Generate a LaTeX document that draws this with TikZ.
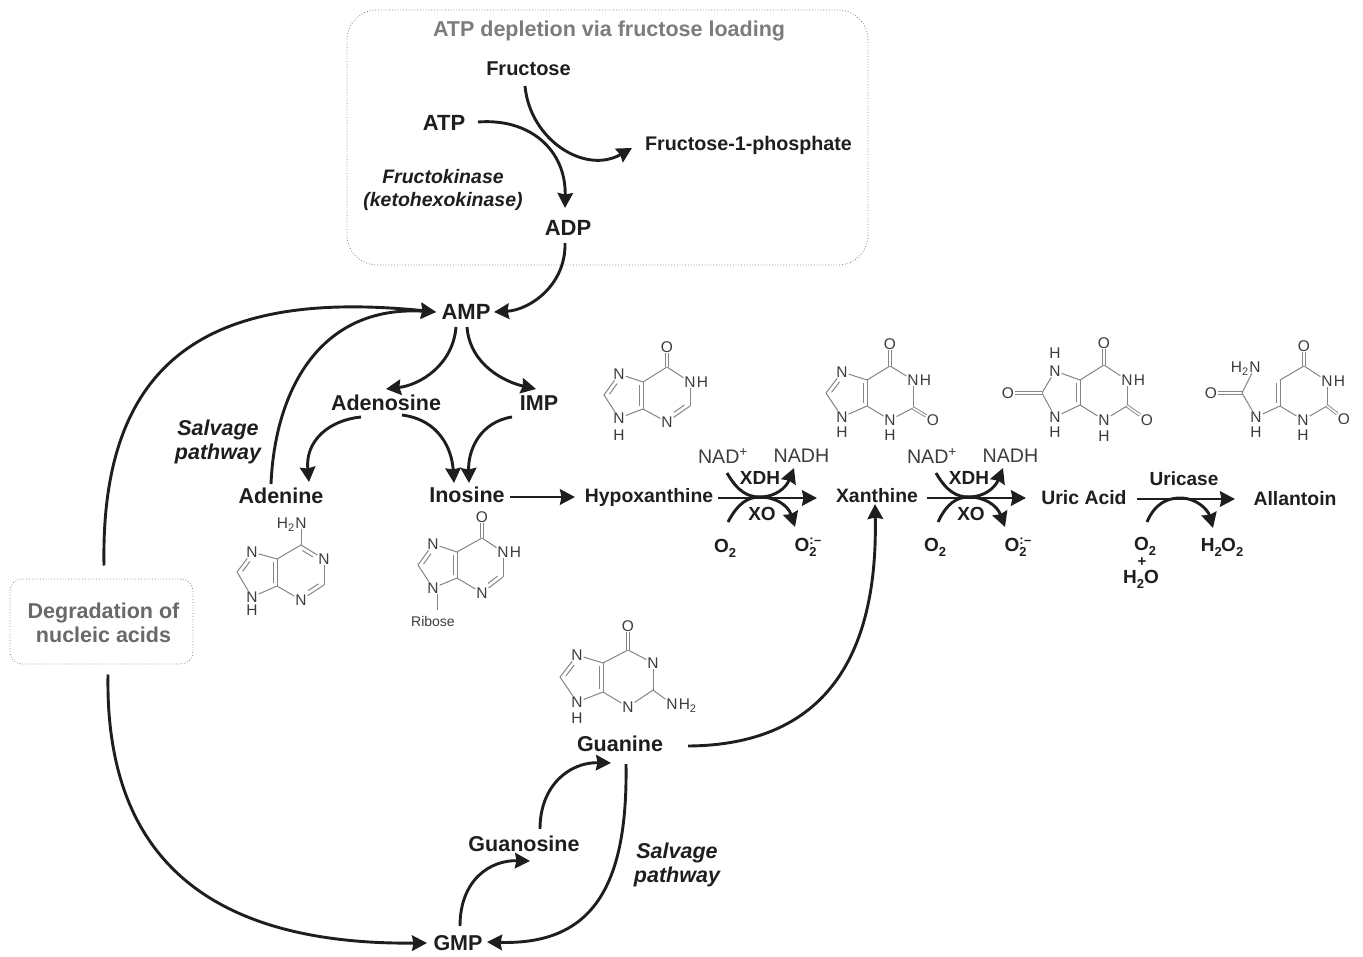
\documentclass[tikz,border=0pt]{standalone}
\usepackage{fontspec}
\setmainfont{Liberation Sans}
\usetikzlibrary{arrows.meta,calc}
\definecolor{ink}{HTML}{1E1E1E}
\definecolor{molink}{HTML}{3C3C3C}
\definecolor{molline}{HTML}{858585}
\definecolor{graytxt}{HTML}{7C7C7C}
\definecolor{boxline}{HTML}{808080}
\tikzset{
  lab/.style={text=ink,inner sep=0pt,yshift=-1pt,font=\fontsize{21.5}{24}\selectfont\bfseries,align=center},
  labr/.style={text=ink,inner sep=0pt,yshift=-1pt,font=\fontsize{19.4}{24}\selectfont\bfseries,align=center},
  labit/.style={text=ink,inner sep=0pt,yshift=-1pt,font=\fontsize{21.5}{24}\selectfont\bfseries\itshape,align=center},
  labsm/.style={text=ink,inner sep=0pt,yshift=-1pt,font=\fontsize{19.5}{23}\selectfont\bfseries\itshape,align=center},
  cof/.style={text=molink,inner sep=0pt,font=\fontsize{19.6}{22}\selectfont},
  enz/.style={text=ink,inner sep=0pt,font=\fontsize{19}{22}\selectfont\bfseries},
  atomtxt/.style={text=molink,inner sep=0.8pt,font=\fontsize{15.5}{17}\selectfont},
  bondln/.style={draw=molline,line width=1pt},
  arr/.style={draw=ink,line width=2.9pt,-{Stealth[length=15pt,width=15.5pt,inset=1.5pt]}},
  dotbox/.style={draw=boxline,line width=.8pt,dotted,fill=white},
}
\newcommand\subsc[1]{\raisebox{-5pt}{\fontsize{13}{14}\selectfont #1}}
\newcommand\asub[1]{\raisebox{-3.5pt}{\fontsize{11}{12}\selectfont #1}}
\newcommand\radmark{\raisebox{7pt}{\fontsize{13}{14}\selectfont\bfseries :\kern.5pt–}}
\newcommand\atm[3]{\node[atomtxt] (#1) at (#2) {#3};}
\newcommand\atmR[4]{\node[atomtxt] (#1) at (#2) {#3};\node[atomtxt,anchor=base west,inner xsep=0pt] (#1r) at (#1.base east) {#4};}
\newcommand\atmL[4]{\node[atomtxt] (#1) at (#2) {#3};\node[atomtxt,anchor=base east,inner xsep=0pt] (#1l) at (#1.base west) {#4};}
\newcommand\cc[2]{\coordinate (#1) at (#2);}
\newcommand\bnd[2]{\draw[bondln] (#1) -- (#2);}
% a b side from to offset
\newcommand\dbl[6]{\draw[bondln] ($(#1)!#4!(#2)!#6!#3:(#2)$) -- ($(#1)!#5!(#2)!#6!#3:(#2)$);}
\newcommand\cdo[2]{\draw[draw=molline,line width=.9pt,double=white,double distance=1.6pt] (#1) -- (#2);}
\newcommand\fivering[1]{\bnd{#1c5}{#1n7}\bnd{#1n7}{#1c8}\bnd{#1c8}{#1n9}\bnd{#1n9}{#1c4}}
\newcommand\sixring[1]{\bnd{#1c5}{#1c6}\bnd{#1c6}{#1n1}\bnd{#1n1}{#1c2}\bnd{#1c2}{#1n3}\bnd{#1n3}{#1c4}\bnd{#1c4}{#1c5}\dbl{#1c4}{#1c5}{90}{.12}{.88}{4pt}}
\begin{document}
\begin{tikzpicture}[x=1pt,y=-1pt]
\useasboundingbox (0,0) rectangle (1363,957);
\fill[white] (0,0) rectangle (1363,957);

% boxes
\node[dotbox,rounded corners=30pt,minimum width=521pt,minimum height=255pt] (frubox) at (607.5,137.5) {};
\node[dotbox,rounded corners=12pt,minimum width=183pt,minimum height=85pt] (degbox) at (101.5,621.5) {};
\node[lab,text=graytxt] (title) at (609,30) {ATP depletion via fructose loading};
\node[lab,text=graytxt!85!black] (deg) at (103.5,622) {Degradation of\\nucleic acids};

% labels
\node[labr,font=\fontsize{20}{24}\selectfont\bfseries] (fru) at (528.5,68) {Fructose};
\node[lab,font=\fontsize{22}{24}\selectfont\bfseries] (atp) at (444,122) {ATP};
\node[labr,font=\fontsize{19.7}{24}\selectfont\bfseries] (f1p) at (748.5,144) {Fructose-1-phosphate};
\node[labsm] (fk) at (443,189) {Fructokinase\\(ketohexokinase)};
\node[lab,font=\fontsize{22}{24}\selectfont\bfseries] (adp) at (568,227) {ADP};
\node[lab,font=\fontsize{22}{24}\selectfont\bfseries] (amp) at (466,311) {AMP};
\node[lab] (adenosine) at (386,402) {Adenosine};
\node[lab] (imp) at (539,402) {IMP};
\node[labit] (salv1) at (218,441) {Salvage\\pathway};
\node[lab] (adenine) at (281,495) {Adenine};
\node[lab] (inosine) at (467,494) {Inosine};
\node[labr] (hypox) at (649,496) {Hypoxanthine};
\node[labr] (xan) at (877,495) {Xanthine};
\node[labr] (uric) at (1084,497) {Uric Acid};
\node[labr] (allan) at (1295,498) {Allantoin};
\node[lab] (guanine) at (620,743) {Guanine};
\node[lab] (guanosine) at (524,843) {Guanosine};
\node[labit] (salv2) at (677,864) {Salvage\\pathway};
\node[lab] (gmp) at (458,942) {GMP};

% cofactors
\node[cof] (nad1) at (723,456) {NAD\textsuperscript{+}};
\node[cof] (nadh1) at (801.5,456) {NADH};
\node[enz] (xdh1) at (760,478) {XDH};
\node[enz] (xo1) at (762,514) {XO};
\node[enz] (oa1) at (725,548) {O\subsc{2}};
\node[enz] (ob1) at (808,547) {O\rlap{\subsc{2}}\radmark};
\node[cof] (nad2) at (932,456) {NAD\textsuperscript{+}};
\node[cof] (nadh2) at (1010.5,456) {NADH};
\node[enz] (xdh2) at (969,478) {XDH};
\node[enz] (xo2) at (971,514) {XO};
\node[enz] (oa2) at (935,547) {O\subsc{2}};
\node[enz] (ob2) at (1018,547) {O\rlap{\subsc{2}}\radmark};
\node[enz] (urase) at (1184,479) {Uricase};
\node[enz] (oa3) at (1145,546) {O\subsc{2}};
\node[enz,font=\fontsize{15}{16}\selectfont\bfseries] (plus3) at (1142,562) {+};
\node[enz] (wat) at (1141,579) {H\subsc{2}O};
\node[enz] (perox) at (1222,547) {H\subsc{2}\kern-.5pt O\subsc{2}};

% connectors
\draw[arr] ([shift={(-3.5,17)}]fru.center) .. controls (530,140) and (585,175) .. ([shift={(-116.5,3)}]f1p.center);
\draw[arr] ([shift={(34,-1)}]atp.center) .. controls (530,118) and (566,150) .. ([shift={(-3,-20)}]adp.center);
\draw[arr] ([shift={(-3,15)}]adp.center) .. controls (566,285) and (530,310) .. ([shift={(28,0)}]amp.center);
\draw[arr] ([shift={(-10,15)}]amp.center) .. controls (453,365) and (420,385) .. ([shift={(0,-14)}]adenosine.center);
\draw[arr] ([shift={(1,15)}]amp.center) .. controls (470,365) and (505,382) .. ([shift={(-3,-14)}]imp.center);
\draw[arr] ([shift={(-25,14)}]adenosine.center) .. controls (330,420) and (305,440) .. ([shift={(28,-14)}]adenine.center);
\draw[arr] ([shift={(16,12)}]adenosine.center) .. controls (440,420) and (452,450) .. ([shift={(-13,-12)}]inosine.center);
\draw[arr] ([shift={(-27,14)}]imp.center) .. controls (480,422) and (468,450) .. ([shift={(2,-12)}]inosine.center);
\draw[arr] ([shift={(-10,-12)}]adenine.center) .. controls (275,390) and (320,305) .. ([shift={(-30,0)}]amp.center);
\draw[arr] ([shift={(2.5,-56)}]degbox.center) .. controls (100,350) and (220,290) .. ([shift={(-30,0)}]amp.center);
\draw[arr] ([shift={(6.5,53)}]degbox.center) .. controls (105,850) and (200,945) .. ([shift={(-31,0)}]gmp.center);
\draw[arr] ([shift={(2,-17)}]gmp.center) .. controls (460,880) and (490,860) .. ([shift={(6,17)}]guanosine.center);
\draw[arr] ([shift={(16,-15)}]guanosine.center) .. controls (540,785) and (570,762) .. ([shift={(-9,19)}]guanine.center);
\draw[arr] ([shift={(6,20)}]guanine.center) .. controls (628,890) and (590,945) .. ([shift={(29,-1)}]gmp.center);
\draw[arr] ([shift={(68,2)}]guanine.center) .. controls (830,745) and (878,650) .. ([shift={(-2,8)}]xan.center);
\draw[arr] ([shift={(43,2)}]inosine.center) -- ([shift={(-74,0)}]hypox.center);
\draw[arr] ([shift={(69,1)}]hypox.center) -- ([shift={(-60,2)}]xan.center);
\draw[arr] ([shift={(50,2)}]xan.center) -- ([shift={(-58,0)}]uric.center);
\draw[arr] ([shift={(53,1)}]uric.center) -- ([shift={(-60,0)}]allan.center);
% cofactor arcs
\draw[arr] ([shift={(4,17)}]nad1.center) .. controls (738,492) and (748,497) .. (760,497) .. controls (775,497) and (786,488) .. ([shift={(-7.5,12)}]nadh1.center);
\draw[arr] ([shift={(3,-26)}]oa1.center) .. controls (738,503) and (748,497) .. (760,497) .. controls (775,497) and (788,505) .. ([shift={(-13,-20)}]ob1.center);
\draw[arr] ([shift={(4,17)}]nad2.center) .. controls (947,492) and (957,497) .. (969,497) .. controls (984,497) and (995,488) .. ([shift={(-7.5,12)}]nadh2.center);
\draw[arr] ([shift={(3,-25)}]oa2.center) .. controls (947,503) and (957,497) .. (969,497) .. controls (984,497) and (997,505) .. ([shift={(-13,-20)}]ob2.center);
\draw[arr] ([shift={(2,-24)}]oa3.center) .. controls (1155,503) and (1168,498) .. (1180,498) .. controls (1197,498) and (1208,510) .. ([shift={(-9,-19)}]perox.center);

% hypoxanthine
\cc{hc5}{643,382}\cc{hc6}{667,367}\cc{hc2}{690,406}\cc{hc4}{643,409}\cc{hc8}{604,395}
\atmR{hn1}{690,382}{N}{H}\atm{hn3}{667,422}{N}\atm{hn7}{619,374}{N}\atm{hn9}{619,418}{N}\atm{hh9}{619,435}{H}\atm{ho}{667,347}{O}
\sixring{h}\fivering{h}\cdo{hc6}{ho}
\dbl{hn7}{hc8}{90}{.35}{.85}{4pt}\dbl{hc2}{hn3}{-90}{.15}{.6}{4pt}

% xanthine
\cc{xc5}{867,380}\cc{xc6}{890,366}\cc{xc2}{913,408}\cc{xc4}{867,406}\cc{xc8}{826,393}
\atmR{xn1}{913,380}{N}{H}\atm{xn3}{890,420}{N}\atm{xh3}{890,435}{H}\atm{xn7}{842,372}{N}\atm{xn9}{842,417}{N}\atm{xh9}{842,432}{H}\atm{xo}{890,344}{O}\atm{xo2}{933,420}{O}
\sixring{x}\fivering{x}\cdo{xc6}{xo}\dbl{xn7}{xc8}{90}{.35}{.85}{4pt}\cdo{xc2}{xo2}

% uric acid
\cc{uc5}{1080,380}\cc{uc6}{1104,365}\cc{uc2}{1127,406}\cc{uc4}{1080,405}\cc{uc8}{1042,393}
\atmR{un1}{1127,380}{N}{H}\atm{un3}{1104,420}{N}\atm{uh3}{1104,436}{H}\atm{un7}{1055,371}{N}\atm{uh7}{1055,353}{H}\atm{un9}{1055,417}{N}\atm{uh9}{1055,432}{H}\atm{uo}{1104,343}{O}\atm{uo2}{1147,420}{O}\atm{uo8}{1008,393}{O}
\sixring{u}\fivering{u}\cdo{uc6}{uo}\cdo{uc2}{uo2}\cdo{uc8}{uo8}

% allantoin
\cc{ac5}{1280,380}\cc{ac6}{1304,366}\cc{ac2}{1327,406}\cc{ac4}{1280,406}\cc{acu}{1242,393}
\atmR{an1}{1327,381}{N}{H}\atm{an3}{1303,420}{N}\atm{ah3}{1303,435}{H}\atm{anh}{1256,417}{N}\atm{ahh}{1256,432}{H}\atm{ao}{1304,346}{O}\atm{ao2}{1344,419}{O}\atm{ao3}{1211,393}{O}
\atmL{an2}{1255,367}{N}{H\asub{2}}
\sixring{a}\cdo{ac6}{ao}\cdo{ac2}{ao2}\cdo{acu}{ao3}\bnd{ac4}{anh}\bnd{anh}{acu}\bnd{acu}{an2}

% adenine
\cc{dc5}{277,559}\cc{dc6}{301,545}\cc{dc2}{324,585}\cc{dc4}{277,586}\cc{dc8}{237,572}
\atm{dn1}{324,559}{N}\atm{dn3}{301,600}{N}\atm{dn7}{252,552}{N}\atm{dn9}{252,597}{N}\atm{dh9}{252,610}{H}
\atmL{dn6}{301,523}{N}{H\asub{2}}
\sixring{d}\fivering{d}\bnd{dc6}{dn6}\dbl{dn7}{dc8}{90}{.35}{.85}{4pt}\dbl{dc2}{dn3}{-90}{.15}{.6}{4pt}\dbl{dc6}{dn1}{-90}{.15}{.6}{4pt}

% inosine
\cc{ic5}{457,552}\cc{ic6}{482,538}\cc{ic2}{503,577}\cc{ic4}{457,578}\cc{ic8}{418,565}
\atmR{in1}{503,552}{N}{H}\atm{in3}{482,593}{N}\atm{in7}{433,544}{N}\atm{in9}{433,588}{N}\atm{io}{482,517}{O}
\node[atomtxt,font=\fontsize{14}{16}\selectfont] (irib) at (433,621) {Ribose};
\cc{iribtop}{437,610}
\sixring{i}\fivering{i}\cdo{ic6}{io}\dbl{in7}{ic8}{90}{.35}{.85}{4pt}\dbl{ic2}{in3}{-90}{.15}{.6}{4pt}
\draw[bondln] ([xshift=4pt]in9.south) -- (iribtop);

% guanine
\cc{gc5}{603,663}\cc{gc6}{628,650}\cc{gc2}{653,690}\cc{gc4}{603,692}\cc{gc8}{560,677}
\atm{gn1}{653,663}{N}\atm{gn3}{628,707}{N}\atm{gn7}{577,655}{N}\atm{gn9}{577,702}{N}\atm{gh9}{577,718}{H}\atm{go}{628,626}{O}
\atmR{gn2}{672,704}{N}{H\asub{2}}
\sixring{g}\fivering{g}\cdo{gc6}{go}\dbl{gn7}{gc8}{90}{.35}{.85}{4pt}\bnd{gc2}{gn2}
\end{tikzpicture}
\end{document}
